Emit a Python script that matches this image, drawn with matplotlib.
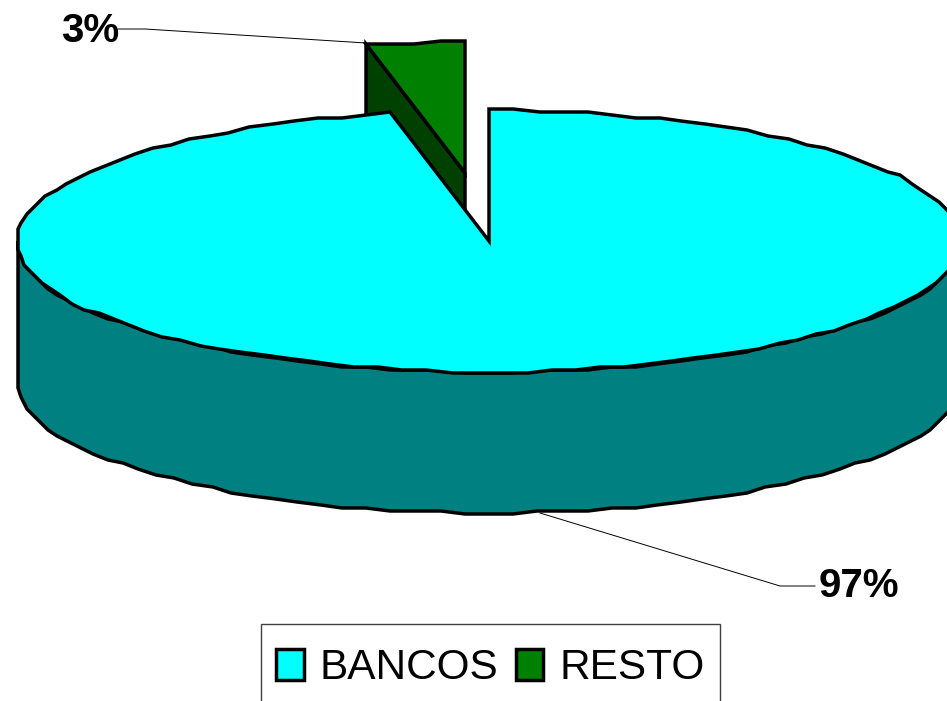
import numpy as np
import matplotlib
matplotlib.use('Agg')
import matplotlib.pyplot as plt
from matplotlib.patches import Patch, Rectangle

# Data
labels = ['BANCOS', 'RESTO']
shares = [96.6, 3.4]
pct_labels = ['97%', '3%']
top_colors = ['#00FFFF', '#008000']
side_colors = ['#008080', '#004000']

plt.rcParams['font.family'] = ['Liberation Sans', 'DejaVu Sans']

# pie geometry in pixels
cx, cy = 489, 241
rx, ry = 472, 131
depth = 141
shift = (-24, -68)
lw = 2.5


def arc(t0, t1, ox=0, oy=0, step=3, grid=3):
    # outline of the original is faceted, so snap the points to a coarse grid
    n = max(int(abs(t1 - t0) / step), 1)
    t = np.radians(np.linspace(t0, t1, n + 1))
    x = cx + ox + np.round(rx * np.sin(t) / grid) * grid
    y = cy + oy - np.round(ry * np.cos(t) / grid) * grid
    return x, y


fig = plt.figure(figsize=(9.47, 7.01), dpi=100)
ax = fig.add_axes([0, 0, 1, 1])
ax.set_xlim(0, 947)
ax.set_ylim(701, 0)
ax.axis('off')

angle = shares[1] / sum(shares) * 360

# RESTO slice, pulled out, sits behind the big one
sx, sy = shift
ax_, ay_ = arc(360 - angle, 360, sx, sy)
c = (cx + sx, cy + sy)
ax.fill([c[0], ax_[0], ax_[0], c[0]],
        [c[1], ay_[0], ay_[0] + depth, c[1] + depth],
        fc=side_colors[1], ec='black', lw=lw, zorder=1)
ax.fill(np.r_[c[0], ax_], np.r_[c[1], ay_], fc=top_colors[1], ec='black', lw=lw, zorder=2)

# BANCOS wall
fx, fy = arc(90, 270)
ax.fill(np.r_[fx, fx[::-1]], np.r_[fy, fy[::-1] + depth],
        fc=side_colors[0], ec='black', lw=lw, zorder=3)

# BANCOS top
tx, ty = arc(0, 360 - angle)
ax.fill(np.r_[cx, tx], np.r_[cy, ty], fc=top_colors[0], ec='black', lw=lw, zorder=4)

# leader lines
ax.plot([118, 145, 366], [29, 29, 43], color='black', lw=0.7, zorder=5)
ax.plot([540, 780, 815], [513, 586, 586], color='black', lw=0.7, zorder=5)
ax.text(90, 31, pct_labels[1], ha='center', va='center', fontsize=29, fontweight='bold')
ax.text(859, 586, pct_labels[0], ha='center', va='center', fontsize=29, fontweight='bold')

# legend frame runs off the bottom of the picture
ax.add_patch(Rectangle((261, 624), 459, 90, fc='white', ec='#404040', lw=1, zorder=6))
handles = [Patch(fc=top_colors[i], ec='black', lw=lw) for i in range(2)]
leg = ax.legend(handles, labels, ncols=2, loc='upper left', bbox_to_anchor=(261, 633),
                bbox_transform=ax.transData, fontsize=30.5, frameon=False,
                borderpad=0.36, borderaxespad=0,
                handlelength=0.65, handleheight=0.72, handletextpad=0.38, columnspacing=0.4)
leg.set_zorder(7)

fig.savefig('out.png', dpi=100)
